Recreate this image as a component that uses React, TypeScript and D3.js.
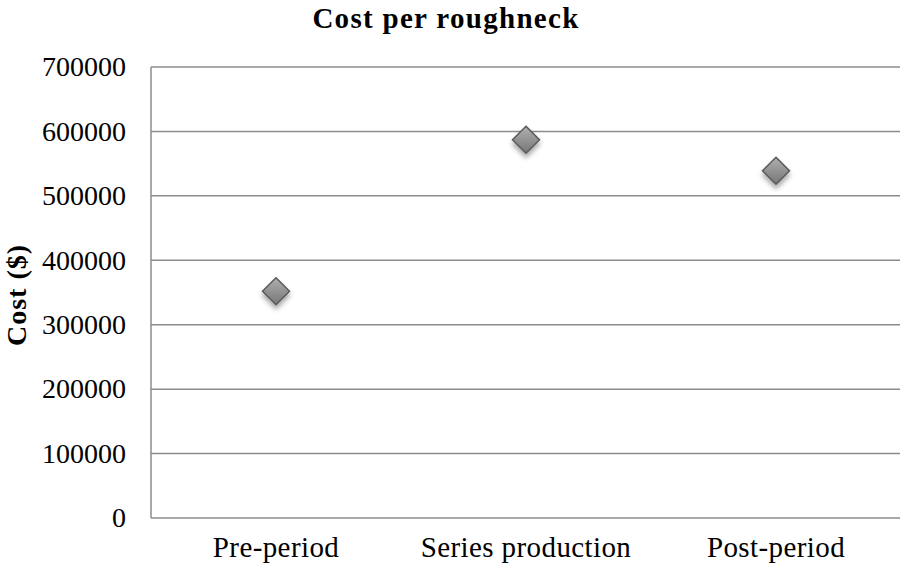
import React from "react";
import * as d3 from "d3";

const categories = ["Pre-period", "Series production", "Post-period"];
const values = [352000, 587000, 539000];
const yTicks = [0, 100000, 200000, 300000, 400000, 500000, 600000, 700000];

const W = 900;
const H = 565;
const left = 151;
const right = 901;
const top = 67;
const bottom = 518;
const serif = "'Liberation Serif', 'DejaVu Serif', serif";

export default function App() {
  const x = d3.scaleBand<string>().domain(categories).range([left, right]);
  const y = d3.scaleLinear().domain([0, 700000]).range([bottom, top]);
  const r = 13.5;
  return (
    <svg width={W} height={H} style={{ position: "absolute", left: 0, top: 0 }}>
      <defs>
        <linearGradient id="mg" x1="0" y1="0" x2="0" y2="1">
          <stop offset="0" stopColor="#b0b0b0" />
          <stop offset="1" stopColor="#767676" />
        </linearGradient>
        <filter id="sh" x="-50%" y="-50%" width="200%" height="220%">
          <feDropShadow dx="0" dy="4" stdDeviation="2.5" floodColor="#000" floodOpacity="0.35" />
        </filter>
      </defs>
      <rect width={W} height={H} fill="#fff" />
      {yTicks.map((t) => (
        <g key={t}>
          <line x1={left} x2={right} y1={y(t)} y2={y(t)} stroke="#8c8c8c" strokeWidth={1.5} />
          <text x={126} y={y(t)} dy="0.33em" textAnchor="end" fontFamily={serif} fontSize={28} fill="#000">
            {t}
          </text>
        </g>
      ))}
      <line x1={left} x2={left} y1={top} y2={bottom} stroke="#8c8c8c" strokeWidth={1.5} />
      {categories.map((c) => (
        <text
          key={c}
          x={(x(c) ?? 0) + x.bandwidth() / 2}
          y={557}
          textAnchor="middle"
          fontFamily={serif}
          fontSize={29}
          letterSpacing={0.4}
          fill="#000"
        >
          {c}
        </text>
      ))}
      {categories.map((c, i) => {
        const cx = (x(c) ?? 0) + x.bandwidth() / 2;
        const cy = y(values[i]);
        return (
          <path
            key={c}
            d={`M${cx},${cy - r}L${cx + r},${cy}L${cx},${cy + r}L${cx - r},${cy}Z`}
            fill="url(#mg)"
            stroke="#5a5a5a"
            strokeWidth={1.5}
            filter="url(#sh)"
          />
        );
      })}
      <text
        x={446}
        y={28}
        textAnchor="middle"
        fontFamily={serif}
        fontWeight="bold"
        fontSize={29}
        letterSpacing={1.3}
        fill="#000"
      >
        Cost per roughneck
      </text>
      <text
        transform={`translate(26,295) rotate(-90)`}
        textAnchor="middle"
        fontFamily={serif}
        fontWeight="bold"
        fontSize={28}
        letterSpacing={1}
        fill="#000"
      >
        Cost ($)
      </text>
    </svg>
  );
}
